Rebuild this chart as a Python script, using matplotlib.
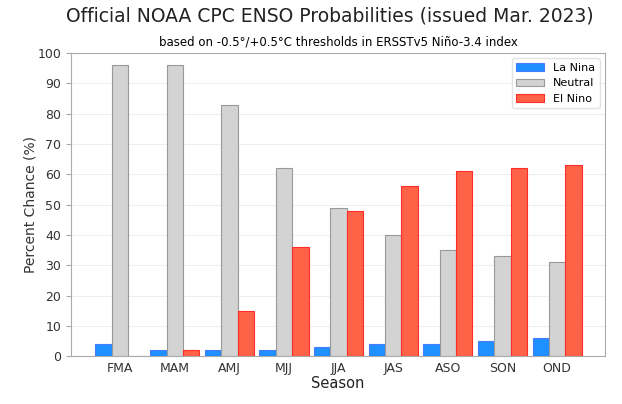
import numpy as np
import matplotlib
matplotlib.use("Agg")
import matplotlib.pyplot as plt

seasons = ["FMA", "MAM", "AMJ", "MJJ", "JJA", "JAS", "ASO", "SON", "OND"]
la_nina = [4, 2, 2, 2, 3, 4, 4, 5, 6]
neutral = [96, 96, 83, 62, 49, 40, 35, 33, 31]
el_nino = [0, 2, 15, 36, 48, 56, 61, 62, 63]

fig = plt.figure(figsize=(6.22, 4.04), dpi=100)
ax = fig.add_axes([0.114, 0.118, 0.859, 0.751])

x = np.arange(len(seasons))
w = 0.3
ax.bar(x - w, la_nina, w, color="#1E90FF", edgecolor="#4a7bff", linewidth=0.8, label="La Nina", zorder=3)
ax.bar(x, neutral, w, color="#D3D3D3", edgecolor="#999999", linewidth=0.8, label="Neutral", zorder=3)
ax.bar(x + w, el_nino, w, color="#FF6347", edgecolor="#ff2a2a", linewidth=0.8, label="El Nino", zorder=3)

ax.set_xticks(x)
ax.set_xticklabels(seasons)
ax.set_xlim(-0.9, 8.88)
ax.set_ylim(0, 100)
ax.set_yticks(range(0, 101, 10))
ax.grid(axis="y", color="#eeeeee", linewidth=0.8, zorder=0)
for s in ax.spines.values():
    s.set_color("#aaaaaa")
ax.tick_params(axis="both", colors="#333333", labelsize=9)
ax.tick_params(axis="x", length=0, pad=4)
ax.tick_params(axis="y", color="#aaaaaa")

ax.set_ylabel("Percent Chance (%)", fontsize=10, color="#333333", labelpad=0)
ax.set_xlabel("Season", fontsize=10.5, color="#222222", labelpad=1)
ax.set_title("based on -0.5°/+0.5°C thresholds in ERSSTv5 Niño-3.4 index", fontsize=8.5, pad=5)
fig.suptitle("Official NOAA CPC ENSO Probabilities (issued Mar. 2023)", fontsize=13.5, y=0.985, x=0.53, color="#222222")

ax.legend(loc="upper right", fontsize=8, frameon=True, edgecolor="#dddddd", fancybox=True, handlelength=2.5)

fig.savefig("out.png", dpi=100)
